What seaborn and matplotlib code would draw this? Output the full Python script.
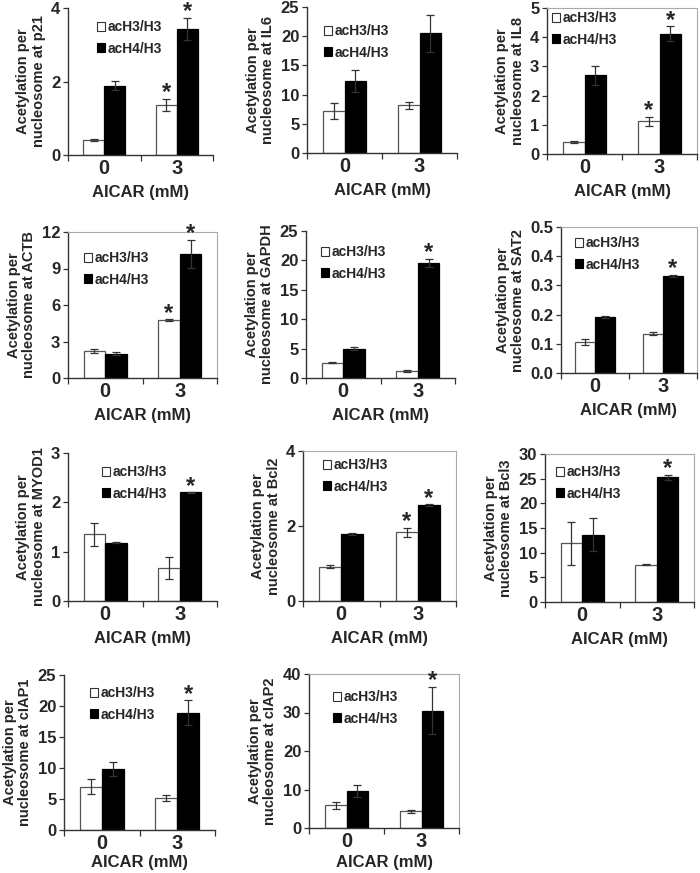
import numpy as np
import pandas as pd
import matplotlib
matplotlib.use("Agg")
import matplotlib.pyplot as plt
import seaborn as sns
from matplotlib.patches import Patch
from matplotlib.ticker import FixedLocator

sns.set_style("ticks")
plt.rcParams['font.family'] = ['Liberation Sans', 'DejaVu Sans']
plt.rcParams['font.weight'] = 'bold'
plt.rcParams['axes.labelweight'] = 'bold'

# ---------------- data ----------------
doses = ["0", "3"]
series = ["acH3/H3", "acH4/H3"]
genes = ["p21", "IL6", "IL8", "ACTB", "GAPDH", "SAT2",
         "MYOD1", "Bcl2", "Bcl3", "cIAP1", "cIAP2"]

h3_mean = [[0.41, 1.37], [7.2, 8.2], [0.41, 1.12], [2.24, 4.77], [2.6, 1.15],
           [0.106, 0.134], [1.35, 0.67], [0.91, 1.84], [11.9, 7.6], [7.0, 5.15], [5.9, 4.3]]
h3_err = [[0.03, 0.16], [1.4, 0.6], [0.05, 0.16], [0.17, 0.05], [0.05, 0.15],
          [0.009, 0.005], [0.24, 0.22], [0.04, 0.12], [4.4, 0.1], [1.2, 0.5], [0.85, 0.3]]
h4_mean = [[1.89, 3.44], [12.3, 20.5], [2.69, 4.12], [1.99, 10.23], [5.0, 19.6],
           [0.191, 0.333], [1.18, 2.2], [1.79, 2.56], [13.65, 25.3], [9.8, 18.9], [9.6, 30.5]]
h4_err = [[0.13, 0.30], [1.9, 3.2], [0.31, 0.26], [0.14, 1.15], [0.2, 0.7],
          [0.004, 0.004], [0.01, 0.01], [0.03, 0.02], [3.3, 0.5], [1.1, 2.0], [1.6, 6.2]]
h3_star = [[False, True], [False, False], [False, True], [False, True], [False, False],
           [False, False], [False, False], [False, True], [False, False], [False, False], [False, False]]
h4_star = [[False, True], [False, False], [False, True], [False, True], [False, True],
           [False, True], [False, True], [False, True], [False, True], [False, True], [False, True]]
ytick_labels = [["0", "2", "4"], ["0", "5", "10", "15", "20", "25"], ["0", "1", "2", "3", "4", "5"],
                ["0", "3", "6", "9", "12"], ["0", "5", "10", "15", "20", "25"],
                ["0.0", "0.1", "0.2", "0.3", "0.4", "0.5"], ["0", "1", "2", "3"], ["0", "2", "4"],
                ["0", "5", "10", "15", "20", "25", "30"], ["0", "5", "10", "15", "20", "25"],
                ["0", "10", "20", "30", "40"]]
xlabel = "AICAR (mM)"

# ---------------- layout (pixels: left, top, right, bottom) ----------------
W, H = 700, 873
boxes = [(68, 8, 213, 155), (307, 7, 457, 153), (547, 8, 697, 154),
         (68, 232, 217, 378), (306, 231, 455, 378), (561, 227, 697, 373),
         (68, 453, 217, 601), (303, 451, 456, 601), (545, 454, 694, 602),
         (64, 675, 215, 830), (309, 674, 459, 828)]
# legend: square left x, first row centre y (pixels)
leg_pos = [(97, 27), (324, 31), (552, 18), (84, 258), (321, 252), (575, 243),
           (102, 472), (323, 465), (556, 472), (90, 693), (333, 697)]
framed = [False, False, True, True, False, True, False, True, True, False, True]
xlabel_pad = [5, 5, 5, 5, 5, 5, 5, 5, 5, 1.5, 2.5]

fig = plt.figure(figsize=(W / 100, H / 100), dpi=100)

for i, g in enumerate(genes):
    l, t, r, b = boxes[i]
    ax = fig.add_axes([l / W, 1 - b / H, (r - l) / W, (b - t) / H])
    df = pd.DataFrame({
        "AICAR": doses + doses,
        "series": [series[0]] * 2 + [series[1]] * 2,
        "value": h3_mean[i] + h4_mean[i],
    })
    sns.barplot(data=df, x="AICAR", y="value", hue="series", order=doses,
                hue_order=series, palette={series[0]: "white", series[1]: "black"},
                width=0.58, errorbar=None, legend=False, ax=ax, linewidth=0.9)
    errs = [h3_err[i], h4_err[i]]
    stars = [h3_star[i], h4_star[i]]
    edgecols = ["#555555", "black"]
    bar_conts = list(ax.containers)
    for hi, cont in enumerate(bar_conts):
        for bar, e, s in zip(cont, errs[hi], stars[hi]):
            bar.set_edgecolor(edgecols[hi])
            xc = bar.get_x() + bar.get_width() / 2
            top = bar.get_height()
            ax.errorbar(xc, top, yerr=e, fmt="none", ecolor="#333333",
                        elinewidth=0.9, capsize=3.2, capthick=0.9, zorder=3)
            if s:
                ax.annotate("*", (xc, top + e), xytext=(0, -4), textcoords="offset points",
                            ha="center", va="bottom", fontsize=17, fontweight="bold")
    ticks = [float(v) for v in ytick_labels[i]]
    ax.set_ylim(0, ticks[-1])
    ax.set_yticks(ticks)
    ax.set_yticklabels(ytick_labels[i], fontsize=12, fontweight="bold")
    ax.set_xlim(-0.5, 1.5)
    ax.tick_params(axis="x", which="major", length=0, labelsize=14.5, pad=3)
    for lab in ax.get_xticklabels():
        lab.set_fontweight("bold")
    ax.xaxis.set_minor_locator(FixedLocator([-0.5, 0.5, 1.5]))
    ax.tick_params(axis="x", which="minor", length=4, width=0.9, direction="out", color="#333333")
    ax.tick_params(axis="y", length=3.5, width=0.9, direction="out", color="#333333", pad=2)
    ax.set_xlabel(xlabel, fontsize=12, fontweight="bold", labelpad=xlabel_pad[i])
    ax.set_ylabel("Acetylation per\nnucleosome at " + g, fontsize=10.5,
                  fontweight="bold", labelpad=4, linespacing=1.1)
    for sp in ["left", "bottom"]:
        ax.spines[sp].set_color("#333333")
        ax.spines[sp].set_linewidth(1.0)
    for sp in ["top", "right"]:
        if framed[i]:
            ax.spines[sp].set_color("#aaaaaa")
            ax.spines[sp].set_linewidth(0.8)
        else:
            ax.spines[sp].set_visible(False)
    # legend
    lx, ly = leg_pos[i]
    handles = [Patch(facecolor="white", edgecolor="#333333", linewidth=0.8),
               Patch(facecolor="black", edgecolor="black", linewidth=0.8)]
    fx = (lx - l) / (r - l)
    fy = 1 - (ly - 7 - t) / (b - t)
    ax.legend(handles, series, loc="upper left", bbox_to_anchor=(fx, fy),
              frameon=False, borderpad=0, borderaxespad=0, handlelength=0.6,
              handleheight=0.6, handletextpad=0.2, labelspacing=0.55,
              prop={"size": 10, "weight": "bold"})

fig.savefig("out.png", dpi=100, facecolor="white")
